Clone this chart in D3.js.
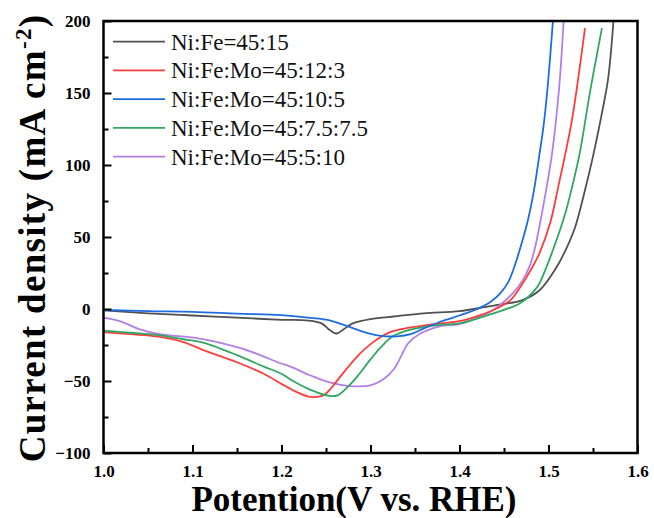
<!DOCTYPE html>
<html>
<head>
<meta charset="utf-8">
<script src="https://cdn.jsdelivr.net/npm/d3@7"></script>
<style>
  html, body { margin: 0; padding: 0; background: #fff; }
  svg { display: block; }
  text { font-family: "Liberation Serif", "Times New Roman", serif; }
</style>
</head>
<body>
<svg id="chart" width="654" height="518"></svg>
<script>
// series labels + colours
const seriesNames = ['Ni:Fe=45:15', 'Ni:Fe:Mo=45:12:3', 'Ni:Fe:Mo=45:10:5', 'Ni:Fe:Mo=45:7.5:7.5', 'Ni:Fe:Mo=45:5:10'];
const seriesColors = ['#505050', '#ff3b3b', '#1d6ce0', '#2ea862', '#b27fe6'];

// [potential V, current density mA cm^-2]
const niFe = [[1.00,-1],[1.05,-3],[1.10,-4.5],[1.15,-6],[1.20,-7.5],[1.23,-8],[1.245,-10],[1.255,-15],[1.262,-17],[1.27,-14],
  [1.28,-10],[1.30,-7],[1.33,-5],[1.36,-3],[1.40,-1.5],[1.43,1.5],[1.45,3.5],[1.47,6],[1.49,13],[1.51,30],[1.52,42],[1.53,57],
  [1.54,80],[1.55,106],[1.56,136],[1.567,160],[1.573,200]];
const mo3 = [[1.00,-16],[1.03,-17.5],[1.06,-19],[1.09,-23],[1.11,-28],[1.15,-37],[1.18,-45],[1.20,-52],[1.215,-57],[1.232,-61],
  [1.247,-60],[1.257,-54],[1.266,-47],[1.285,-33],[1.303,-23],[1.322,-16],[1.344,-13],[1.378,-10],[1.40,-8.5],[1.42,-5],
  [1.438,-0.7],[1.457,6],[1.468,15],[1.48,27],[1.49,39],[1.502,60],[1.511,85],[1.519,108],[1.526,130],[1.532,154],[1.541,195]];
const mo5 = [[1.00,-0.7],[1.05,-1.5],[1.10,-2],[1.15,-3.2],[1.20,-4.3],[1.23,-6],[1.255,-8],[1.27,-11],[1.29,-15.5],[1.31,-18.5],
  [1.33,-19],[1.345,-17.5],[1.36,-13.5],[1.38,-8.5],[1.40,-4.5],[1.42,0],[1.435,5],[1.446,11],[1.455,19],[1.462,30],[1.47,46],
  [1.477,62],[1.483,80],[1.49,108],[1.495,130],[1.499,154],[1.505,200]];
const mo75 = [[1.00,-15],[1.03,-16.5],[1.06,-18],[1.09,-21],[1.11,-23],[1.15,-32],[1.18,-40],[1.20,-45],[1.21,-49],[1.232,-56],
  [1.254,-60.4],[1.263,-60],[1.273,-55],[1.285,-47],[1.30,-35],[1.311,-27],[1.325,-19],[1.344,-14.5],[1.378,-11],[1.40,-10],
  [1.438,-3],[1.468,4],[1.487,15],[1.497,28],[1.505,41],[1.513,55],[1.52,69],[1.527,86],[1.535,108],[1.547,152],[1.56,195]];
const mo10 = [[1.00,-6],[1.02,-8.8],[1.04,-14],[1.063,-17.5],[1.108,-20.5],[1.153,-27],[1.176,-32],[1.198,-37.5],[1.21,-40],
  [1.232,-46],[1.254,-51],[1.277,-53.5],[1.30,-53],[1.314,-49],[1.326,-42],[1.335,-32],[1.342,-24],[1.356,-17],[1.378,-12],
  [1.40,-10.5],[1.42,-6],[1.438,-0.7],[1.46,11],[1.47,19],[1.479,30],[1.485,43],[1.49,58],[1.498,85],[1.504,108],[1.512,154],[1.517,200]];

const allSeries = [niFe, mo3, mo5, mo75, mo10];
// draw order: back to front
const drawOrder = [0, 4, 1, 3, 2];

const xTicks = [1.0, 1.1, 1.2, 1.3, 1.4, 1.5, 1.6];
const yTicks = [-100, -50, 0, 50, 100, 150, 200];

const plotL = 103.5, plotR = 637.5, plotT = 21, plotB = 453;
const svg = d3.select('#chart');

const x = d3.scaleLinear().domain([1.0, 1.6]).range([plotL, plotR]);
const y = d3.scaleLinear().domain([-100, 200]).range([plotB, plotT]);

svg.append('defs').append('clipPath').attr('id', 'plot-clip')
  .append('rect').attr('x', plotL).attr('y', plotT).attr('width', plotR - plotL).attr('height', plotB - plotT);

// curves
const line = d3.line().x(d => x(d[0])).y(d => y(d[1])).curve(d3.curveCatmullRom.alpha(0.5));
const curves = svg.append('g').attr('clip-path', 'url(#plot-clip)');
for (const i of drawOrder) {
  curves.append('path')
    .attr('d', line(allSeries[i]))
    .attr('fill', 'none')
    .attr('stroke', seriesColors[i])
    .attr('stroke-width', 1.8)
    .attr('stroke-linejoin', 'round');
}

// axes: inward ticks, major + minor
const tickFont = '17px';
const xAxis = d3.axisBottom(x).tickValues(xTicks).tickSizeInner(-8).tickSizeOuter(0).tickPadding(12)
  .tickFormat(d3.format('.1f'));
const xMinor = d3.axisBottom(x).tickValues(d3.range(1.05, 1.6, 0.1)).tickSizeInner(-5).tickSizeOuter(0).tickFormat('');
const yAxis = d3.axisLeft(y).tickValues(yTicks).tickSizeInner(-8).tickSizeOuter(0).tickPadding(13);
const yMinor = d3.axisLeft(y).tickValues(d3.range(-75, 200, 50)).tickSizeInner(-5).tickSizeOuter(0).tickFormat('');

function styleAxis(g) {
  g.select('.domain').remove();
  g.selectAll('.tick line').attr('stroke', '#000').attr('stroke-width', 2);
  g.selectAll('.tick text').attr('fill', '#000').style('font-size', tickFont).style('font-weight', 'bold')
    .style('font-family', '"Liberation Serif", "Times New Roman", serif');
}

svg.append('g').attr('transform', `translate(0,${plotB})`).call(xAxis).call(styleAxis);
svg.append('g').attr('transform', `translate(0,${plotB})`).call(xMinor).call(styleAxis);
svg.append('g').attr('transform', `translate(${plotL},0)`).call(yAxis).call(styleAxis);
svg.append('g').attr('transform', `translate(${plotL},0)`).call(yMinor).call(styleAxis);

// frame
svg.append('rect')
  .attr('x', plotL).attr('y', plotT).attr('width', plotR - plotL).attr('height', plotB - plotT)
  .attr('fill', 'none').attr('stroke', '#000').attr('stroke-width', 2.5);

// axis titles
svg.append('text')
  .attr('x', 354).attr('y', 511)
  .attr('text-anchor', 'middle')
  .style('font-size', '35px').style('font-weight', 'bold')
  .text('Potention(V vs. RHE)');

const yt = svg.append('text')
  .attr('transform', `translate(45,${(plotT + plotB) / 2 + 1}) rotate(-90)`)
  .attr('text-anchor', 'middle')
  .style('font-size', '37px').style('font-weight', 'bold')
  .style('letter-spacing', '1.3px');
yt.append('tspan').text('Current density (mA cm');
yt.append('tspan').attr('dy', -14).style('font-size', '23px').text('-2');
yt.append('tspan').attr('dy', 14).text(')');

// legend
const legend = svg.append('g');
seriesNames.forEach((name, i) => {
  const ly = 41.7 + i * 28.75;
  legend.append('line')
    .attr('x1', 113).attr('x2', 165).attr('y1', ly).attr('y2', ly)
    .attr('stroke', seriesColors[i]).attr('stroke-width', 1.8);
  legend.append('text')
    .attr('x', 171).attr('y', ly + 8)
    .style('font-size', '23px').attr('fill', '#111')
    .text(name);
});
</script>
</body>
</html>
